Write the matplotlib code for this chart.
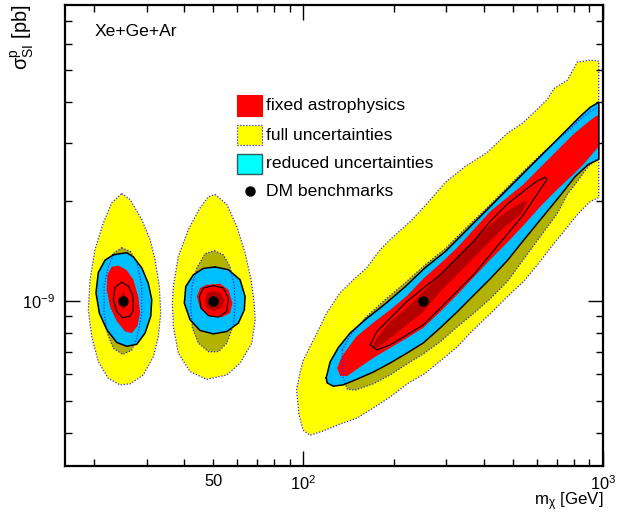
import numpy as np
import matplotlib
matplotlib.use('Agg')
import matplotlib.pyplot as plt
from matplotlib import font_manager as fm
from matplotlib.patches import Rectangle
from matplotlib.ticker import FixedLocator, FixedFormatter, FuncFormatter, NullFormatter

SIG_UNIT = 1e-9  # sigma values below are in units of 1e-9 pb

# ---------------- DM benchmarks ----------------
bench_mass = [25.0, 50.0, 250.0]
bench_sigma = [1.0, 1.0, 1.0]

# ---------------- benchmark 1 (25 GeV) ----------------
b1_full95_m = [24.74, 26.38, 28.86, 30.76, 31.97, 33.04, 33.40, 32.79, 31.55, 29.21, 26.38, 24.42, 22.32, 20.67, 19.65, 19.14, 19.40, 20.15, 21.48, 22.91]
b1_full95_s = [2.114, 2.028, 1.764, 1.534, 1.334, 1.107, 0.920, 0.781, 0.679, 0.598, 0.562, 0.558, 0.584, 0.656, 0.781, 0.941, 1.160, 1.431, 1.723, 1.982]
b1_full68_m = [24.74, 26.51, 27.90, 28.86, 28.86, 27.90, 26.72, 24.93, 23.20, 22.15, 21.60, 21.60, 22.32, 23.37]
b1_full68_s = [1.45, 1.41, 1.30, 1.11, 0.92, 0.78, 0.71, 0.69, 0.72, 0.80, 0.92, 1.11, 1.27, 1.40]
b1_red95_m = [23.20, 25.71, 27.05, 28.86, 30.36, 31.17, 30.93, 29.60, 27.77, 25.71, 23.81, 22.05, 20.83, 20.30, 20.67, 21.77]
b1_red95_s = [1.38, 1.40, 1.36, 1.26, 1.13, 1.01, 0.90, 0.80, 0.74, 0.73, 0.75, 0.82, 0.92, 1.06, 1.22, 1.33]
b1_red68_m = [24.74, 26.03, 26.93, 27.05, 26.38, 24.93, 23.81, 23.20, 23.50]
b1_red68_s = [1.14, 1.11, 1.04, 0.94, 0.90, 0.89, 0.93, 1.01, 1.10]
b1_fix95_m = [24.11, 25.71, 27.05, 28.11, 28.49, 27.90, 26.72, 25.38, 23.81, 22.62, 22.05, 22.15, 22.91]
b1_fix95_s = [1.28, 1.24, 1.16, 1.03, 0.92, 0.84, 0.80, 0.81, 0.87, 0.96, 1.08, 1.20, 1.27]
b1_fix68_m = [25.05, 25.71, 25.71, 25.18, 24.55, 24.47]
b1_fix68_s = [1.07, 1.02, 0.97, 0.94, 0.97, 1.02]

# ---------------- benchmark 2 (50 GeV) ----------------
b2_full95_m = [50.70, 55.48, 59.92, 63.86, 66.89, 68.45, 68.99, 67.26, 61.45, 55.48, 47.57, 41.83, 38.24, 36.80, 36.52, 36.80, 38.24, 41.29, 45.18, 48.16]
b2_full95_s = [2.10, 1.96, 1.68, 1.40, 1.16, 0.988, 0.878, 0.746, 0.649, 0.598, 0.580, 0.612, 0.696, 0.838, 0.986, 1.107, 1.365, 1.645, 1.913, 2.066]
b2_full68_m = [50.42, 54.06, 56.90, 58.67, 59.13, 58.46, 55.48, 52.01, 48.16, 44.60, 42.59, 42.00, 42.56, 44.06, 46.95]
b2_full68_s = [1.42, 1.38, 1.27, 1.12, 0.974, 0.848, 0.746, 0.703, 0.703, 0.746, 0.830, 0.974, 1.12, 1.259, 1.391]
b2_red95_m = [50.70, 56.16, 61.45, 63.86, 63.51, 60.65, 55.48, 50.04, 45.18, 41.83, 40.04, 40.48, 42.91, 46.34]
b2_red95_s = [1.268, 1.244, 1.160, 1.033, 0.941, 0.858, 0.809, 0.796, 0.815, 0.878, 0.986, 1.107, 1.201, 1.255]
b2_red68_m = [50.04, 54.06, 56.16, 55.48, 52.01, 48.16, 45.52, 44.95, 46.34]
b2_red68_s = [1.113, 1.095, 1.021, 0.930, 0.894, 0.903, 0.952, 1.033, 1.095]
b2_fix95_m = [47.57, 52.68, 56.16, 57.93, 56.90, 53.40, 48.79, 45.18, 44.06, 45.18]
b2_fix95_s = [1.12, 1.128, 1.082, 0.986, 0.920, 0.894, 0.898, 0.952, 1.033, 1.095]
b2_fix68_m = [49.93, 52.68, 54.35, 53.52, 50.31, 47.68, 46.95, 47.68]
b2_fix68_s = [1.074, 1.06, 1.009, 0.954, 0.934, 0.954, 1.009, 1.06]

# ---------------- benchmark 3 (250 GeV) ----------------
b3_full95_m = [94.9, 97.5, 100.0, 109.4, 119.7, 132.6, 146.9, 162.8, 180.4, 194.8, 227.2, 255.0, 297.4, 346.8, 410.9, 479.0, 537.7, 594.0, 651.6, 687.7, 760.0, 820.7, 906.9, 968.2,
               968.2, 906.9, 827.0, 748.3, 677.2, 608.0, 546.0, 479.0, 420.3, 368.8, 326.2, 286.2, 253.0, 222.0, 194.8, 171.0, 151.1, 132.6, 116.4, 105.3, 99.8, 96.7]
b3_full95_s = [0.538, 0.610, 0.664, 0.780, 0.922, 1.060, 1.160, 1.262, 1.430, 1.534, 1.739, 1.944, 2.283, 2.553, 2.814, 3.214, 3.446, 3.747, 4.070, 4.399, 4.651, 5.274, 5.349, 5.312,
               2.056, 2.000, 1.839, 1.645, 1.471, 1.297, 1.152, 1.030, 0.915, 0.818, 0.727, 0.659, 0.602, 0.562, 0.513, 0.475, 0.443, 0.425, 0.405, 0.393, 0.407, 0.452]
b3_full68_m = [134.7, 143.2, 160.7, 187.5, 218.6, 255.0, 297.4, 346.8, 404.6, 471.7, 550.3, 641.8, 748.3, 839.8, 906.9, 968.2,
               968.2, 893.0, 820.7, 760.0, 703.7, 617.4, 541.9, 479.0, 420.3, 368.8, 326.2, 286.2, 251.1, 222.0, 194.8, 171.0, 148.8, 140.0, 135.7]
b3_full68_s = [0.712, 0.785, 0.890, 1.009, 1.136, 1.288, 1.440, 1.656, 1.891, 2.175, 2.500, 2.854, 3.214, 3.543, 3.747, 3.853,
               2.718, 2.553, 2.299, 2.100, 1.839, 1.566, 1.334, 1.144, 1.016, 0.915, 0.836, 0.753, 0.692, 0.646, 0.598, 0.562, 0.538, 0.542, 0.586]
b3_red95_m = [119.1, 122.8, 130.6, 143.2, 160.7, 187.5, 218.6, 255.0, 297.4, 346.8, 404.6, 471.7, 550.3, 641.8, 748.3, 839.8, 906.9, 968.2,
              968.2, 893.0, 808.1, 720.1, 617.4, 541.9, 479.0, 420.3, 368.8, 326.2, 286.2, 251.1, 222.0, 194.8, 171.0, 151.1, 135.7, 125.7, 120.0]
b3_red95_s = [0.586, 0.655, 0.722, 0.801, 0.878, 0.981, 1.105, 1.262, 1.411, 1.622, 1.865, 2.144, 2.465, 2.834, 3.258, 3.618, 3.853, 3.990,
              2.681, 2.588, 2.381, 2.085, 1.760, 1.523, 1.325, 1.168, 1.038, 0.928, 0.830, 0.747, 0.697, 0.650, 0.610, 0.581, 0.558, 0.553, 0.566]
b3_red68_m = [167.0, 175.9, 194.8, 221.5, 251.7, 286.2, 325.4, 369.7, 420.3, 478.0, 543.1, 602.0, 633.4, 650.1, 641.8,
              602.0, 543.1, 478.0, 420.3, 369.7, 325.4, 286.2, 251.7, 221.5, 194.8, 175.9, 169.3]
b3_red68_s = [0.737, 0.712, 0.737, 0.790, 0.848, 0.952, 1.069, 1.201, 1.381, 1.588, 1.826, 2.100, 2.251, 2.331, 2.369,
              2.304, 2.148, 1.958, 1.743, 1.516, 1.350, 1.201, 1.095, 0.997, 0.888, 0.809, 0.754]
b3_fix95_m = [129.6, 134.7, 150.0, 171.0, 194.8, 222.0, 251.1, 286.2, 326.2, 380.4, 420.3, 479.0, 541.9, 617.4, 703.7, 795.8, 906.9, 968.2,
              968.2, 859.6, 795.8, 703.7, 617.4, 541.9, 479.0, 420.3, 368.8, 326.2, 286.2, 251.1, 222.0, 194.8, 171.0, 151.1, 140.0, 132.6]
b3_fix95_s = [0.628, 0.683, 0.780, 0.860, 0.941, 1.038, 1.168, 1.297, 1.451, 1.691, 1.865, 2.056, 2.251, 2.535, 2.854, 3.191, 3.519, 3.669,
              2.935, 2.588, 2.414, 2.175, 1.930, 1.691, 1.502, 1.334, 1.177, 1.045, 0.928, 0.830, 0.774, 0.722, 0.673, 0.623, 0.594, 0.594]
b3_fix68_m = [169.3, 175.9, 194.8, 221.5, 251.7, 286.2, 325.4, 369.7, 420.3, 478.0, 543.1, 557.5,
              529.4, 465.6, 420.3, 369.7, 325.4, 286.2, 251.7, 221.5, 194.8, 175.9]
b3_fix68_s = [0.720, 0.772, 0.868, 0.952, 1.069, 1.201, 1.350, 1.516, 1.703, 1.868, 2.004, 1.982,
              1.826, 1.664, 1.516, 1.350, 1.201, 1.069, 0.930, 0.848, 0.772, 0.720]

x_major = [100, 1000]
x_major_labels = ['$10^{2}$', '$10^{3}$']
x_minor = [20, 30, 40, 50, 60, 70, 80, 90, 200, 300, 400, 500, 600, 700, 800, 900]
x_minor_label = 50
y_major = [1e-9]
y_major_labels = ['$10^{-9}$']
y_minor = [4e-10, 5e-10, 6e-10, 7e-10, 8e-10, 9e-10, 2e-9, 3e-9, 4e-9, 5e-9, 6e-9, 7e-9]

legend_labels = ['fixed astrophysics', 'full uncertainties', 'reduced uncertainties', 'DM benchmarks']

# ---------------- fonts ----------------
def has_font(name):
    try:
        fm.findfont(fm.FontProperties(family=name), fallback_to_default=False)
        return True
    except Exception:
        return False

if has_font('Liberation Sans Narrow'):
    FAM, K = 'Liberation Sans Narrow', 1.0
else:
    FAM, K = 'Liberation Sans', 0.84
plt.rcParams['font.family'] = [FAM, 'DejaVu Sans']
plt.rcParams['mathtext.fontset'] = 'custom'
plt.rcParams['mathtext.rm'] = FAM
plt.rcParams['mathtext.it'] = FAM + ':italic'
plt.rcParams['mathtext.sf'] = FAM
plt.rcParams['mathtext.default'] = 'regular'

YEL = '#FFFF00'
OLV = '#B2B200'
CYN = '#00BFFF'
RED = '#FF0000'
DRD = '#B40000'
DOT = '#2828FF'
DOTLS = (0, (1, 1.4))

fig = plt.figure(figsize=(6.24, 5.18), dpi=100)
ax = fig.add_axes([65 / 624, 1 - 465.7 / 518, 538 / 624, 460.7 / 518])
ax.set_xscale('log')
ax.set_yscale('log')


def fill(m, s, color, z):
    ax.fill(np.asarray(m), np.asarray(s) * SIG_UNIT, facecolor=color, edgecolor='none', lw=0, zorder=z)


def line(m, s, color, ls, lw, z):
    x = list(m) + [m[0]]
    y = (np.asarray(list(s) + [s[0]])) * SIG_UNIT
    ax.plot(x, y, color=color, ls=ls, lw=lw, zorder=z, solid_joinstyle='round')


for (f95m, f95s, f68m, f68s, r95m, r95s, r68m, r68s, x95m, x95s, x68m, x68s) in [
        (b1_full95_m, b1_full95_s, b1_full68_m, b1_full68_s, b1_red95_m, b1_red95_s, b1_red68_m, b1_red68_s,
         b1_fix95_m, b1_fix95_s, b1_fix68_m, b1_fix68_s),
        (b2_full95_m, b2_full95_s, b2_full68_m, b2_full68_s, b2_red95_m, b2_red95_s, b2_red68_m, b2_red68_s,
         b2_fix95_m, b2_fix95_s, b2_fix68_m, b2_fix68_s),
        (b3_full95_m, b3_full95_s, b3_full68_m, b3_full68_s, b3_red95_m, b3_red95_s, b3_red68_m, b3_red68_s,
         b3_fix95_m, b3_fix95_s, b3_fix68_m, b3_fix68_s)]:
    fill(f95m, f95s, YEL, 1)
    line(f95m, f95s, DOT, DOTLS, 0.9, 1.5)
    fill(f68m, f68s, OLV, 2)
    fill(r95m, r95s, CYN, 3)
    fill(x95m, x95s, RED, 4)
    fill(x68m, x68s, DRD, 5)
    line(f68m, f68s, DOT, DOTLS, 0.9, 6)
    line(r95m, r95s, 'black', '-', 1.1, 7)
    line(r68m, r68s, 'black', '-', 0.8, 7)

ax.plot(bench_mass, np.asarray(bench_sigma) * SIG_UNIT, 'o', color='black', ms=6.5, zorder=10)

ax.set_xlim(16, 1000)
ax.set_ylim(3.18e-10, 7.85e-9)

ax.xaxis.set_major_locator(FixedLocator(x_major))
ax.xaxis.set_major_formatter(FixedFormatter(x_major_labels))
ax.xaxis.set_minor_locator(FixedLocator(x_minor))
ax.xaxis.set_minor_formatter(FuncFormatter(lambda v, p: '%d' % x_minor_label if abs(v - x_minor_label) < 1e-6 else ''))
ax.yaxis.set_major_locator(FixedLocator(y_major))
ax.yaxis.set_major_formatter(FixedFormatter(y_major_labels))
ax.yaxis.set_minor_locator(FixedLocator(y_minor))
ax.yaxis.set_minor_formatter(NullFormatter())

ax.tick_params(which='both', direction='in', top=True, right=True, width=1.0, colors='black',
               labelsize=14 * K)
ax.tick_params(which='major', length=10.5)
ax.tick_params(which='minor', length=5)
ax.tick_params(axis='x', which='both', pad=6)
ax.tick_params(axis='y', which='both', pad=7)
for sp in ax.spines.values():
    sp.set_linewidth(1.6)

ax.text(1.0, -0.0853, r'$m_{\chi}$ [GeV]', transform=ax.transAxes, ha='right', va='baseline', fontsize=14.5 * K)
ax.text(-0.080, 1.0, r'$\sigma^{p}_{SI}$ [pb]', transform=ax.transAxes, rotation=90, ha='center', va='top',
        fontsize=17 * K)
ax.text(0.0545, 0.942, 'Xe+Ge+Ar', transform=ax.transAxes, ha='left', va='center', fontsize=15 * K)

# legend (drawn in axes coordinates)
bx, bw, bh = 0.3203, 0.0454, 0.0445
rows = [0.7819, 0.7178, 0.6549, 0.5952]
ax.add_patch(Rectangle((bx, rows[0] - bh / 2), bw, bh, transform=ax.transAxes, facecolor=RED,
                       edgecolor=RED, lw=0.8, zorder=20))
ax.add_patch(Rectangle((bx, rows[1] - bh / 2), bw, bh, transform=ax.transAxes, facecolor=YEL,
                       edgecolor=DOT, lw=0.9, ls=DOTLS, zorder=20))
ax.add_patch(Rectangle((bx, rows[2] - bh / 2), bw, bh, transform=ax.transAxes, facecolor='#00FFFF',
                       edgecolor='#2F5F5F', lw=1.0, zorder=20))
ax.plot([0.3439], [rows[3]], 'o', color='black', ms=6.5, transform=ax.transAxes, zorder=20)
for r, lab in zip(rows, legend_labels):
    ax.text(0.3730, r, lab, transform=ax.transAxes, ha='left', va='center', fontsize=15 * K, zorder=21)

fig.savefig('out.png', dpi=100, facecolor='white')
